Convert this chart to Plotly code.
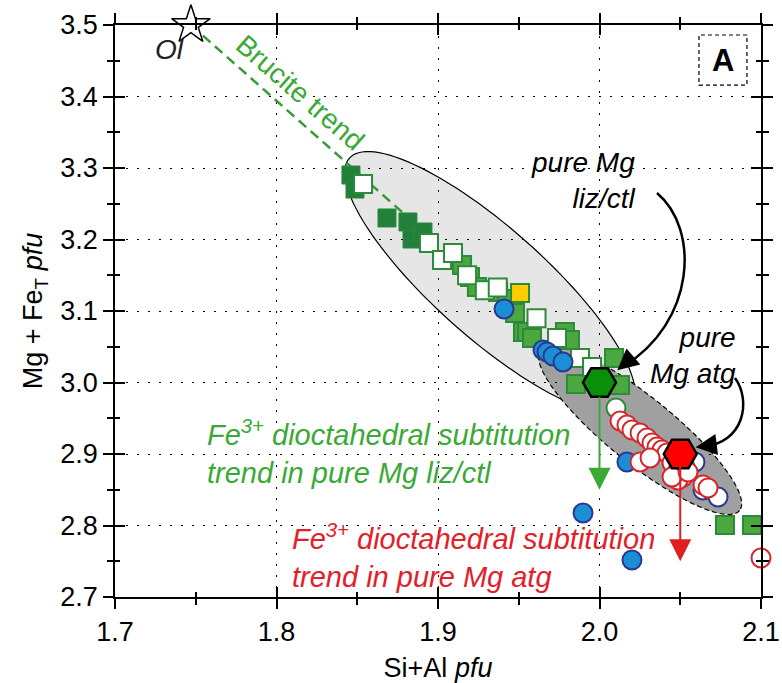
import numpy as np
import plotly.graph_objects as go

# ---------------- data ----------------
dkgreen_x = [1.8461, 1.8486, 1.8684, 1.8814, 1.8839, 1.8907]
dkgreen_y = [3.2902, 3.2706, 3.2301, 3.2245, 3.2007, 3.2105]

green_x = [1.9149, 1.9198, 1.9241, 1.9372, 1.9427, 1.9477, 1.9526, 1.9551, 1.9582,
           1.9786, 1.9817, 1.9854, 2.0090, 2.0127, 2.0777, 2.0944]
green_y = [3.1643, 3.1476, 3.1336, 3.1266, 3.1168, 3.0972, 3.0706, 3.0706, 3.0622,
           3.0706, 3.0594, 2.9979, 3.0343, 2.9965, 2.8007, 2.8007]

white_sq_x = [1.8536, 1.8944, 1.9025, 1.9093, 1.9180, 1.9290, 1.9370, 1.9610, 1.9737, 1.9879, 1.9954]
white_sq_y = [3.2776, 3.1951, 3.1713, 3.1811, 3.1500, 3.1290, 3.1330, 3.0900, 3.0622, 3.0343, 3.0217]

yellow_x = [1.9508]
yellow_y = [3.1252]

blue_x = [1.9409, 1.9650, 1.9675, 1.9712, 1.9774, 2.0170, 1.9898, 2.0201]
blue_y = [3.1028, 3.0455, 3.0427, 3.0371, 3.0287, 2.8888, 2.8175, 2.7517]

blue_open_x = [2.0641, 2.0734, 2.0591]
blue_open_y = [2.8497, 2.8399, 2.8888]

green_open_x = [2.0102, 2.0529]
green_open_y = [2.9643, 2.8818]

red_open_x = [2.0127, 2.0170, 2.0201, 2.0251, 2.0294, 2.0325, 2.0356, 2.0387, 2.0418, 2.0251,
              2.0313, 2.0449, 2.0480, 2.0517, 2.0486, 2.0449, 2.0548, 2.0641, 2.0672, 2.1000]
red_open_y = [2.9462, 2.9406, 2.9336, 2.9294, 2.9224, 2.9154, 2.9098, 2.9056, 2.9014, 2.8888,
              2.8944, 2.8874, 2.8748, 2.8678, 2.8636, 2.8678, 2.8748, 2.8566, 2.8524, 2.7545]

ol_x, ol_y = [1.747], [3.5]
brucite_x = [1.747, 1.88]
brucite_y = [3.5, 3.234]

lizctl_x, lizctl_y = [2.0], [3.0]
atg_x, atg_y = [2.05], [2.9]

x_ticks = [1.7, 1.8, 1.9, 2.0, 2.1]
y_ticks = [2.7, 2.8, 2.9, 3.0, 3.1, 3.2, 3.3, 3.4, 3.5]
X_RANGE = [1.7, 2.1]
Y_RANGE = [2.7, 3.5]

# ellipses: centre (data), semi-axes (px), angle (deg, clockwise on screen)
ell_light = dict(cx=1.9322, cy=3.1392, a=188, b=55, ang=41.6)
ell_dark = dict(cx=2.0251, cy=2.9336, a=128, b=33, ang=39.0)

W, H = 782, 683
ML, MR, MT, MB = 115, 21, 25, 86
PX_X = (W - ML - MR) / (X_RANGE[1] - X_RANGE[0])
PX_Y = (H - MT - MB) / (Y_RANGE[1] - Y_RANGE[0])


def ellipse_path(e, n=120):
    t = np.linspace(0, 2 * np.pi, n)
    th = np.radians(e["ang"])
    dx = e["a"] * np.cos(t) * np.cos(th) - e["b"] * np.sin(t) * np.sin(th)
    dy = e["a"] * np.cos(t) * np.sin(th) + e["b"] * np.sin(t) * np.cos(th)
    xs = e["cx"] + dx / PX_X
    ys = e["cy"] - dy / PX_Y
    p = "M " + " L ".join(f"{x:.5f},{y:.5f}" for x, y in zip(xs, ys)) + " Z"
    return p


GREEN_TXT = "#3aa935"
RED_TXT = "#e3202a"
FONT = "Liberation Sans, Arial, Helvetica, sans-serif"

fig = go.Figure()

fig.add_trace(go.Scatter(x=brucite_x, y=brucite_y, mode="lines",
                         line=dict(color="#3a9b35", width=2.5, dash="10px,6px"),
                         hoverinfo="skip"))


def sq(x, y, fill, border, size=18, symbol="square", width=2):
    fig.add_trace(go.Scatter(x=x, y=y, mode="markers", cliponaxis=False,
                             marker=dict(symbol=symbol, size=size, color=fill,
                                         line=dict(color=border, width=width))))


sq(dkgreen_x, dkgreen_y, "#22803a", "#2a8a3e", width=1)
sq(green_x, green_y, "#4aa83e", "#2c8a3a")
sq(white_sq_x, white_sq_y, "white", "#2c8a3a")
sq(yellow_x, yellow_y, "#ffcc00", "#2c8a3a")
sq(blue_x, blue_y, "#1a8fd6", "#2b3990", symbol="circle", size=19)
sq(blue_open_x, blue_open_y, "white", "#2b3990", symbol="circle", size=19)
sq(green_open_x, green_open_y, "white", "#2c8a3a", symbol="circle", size=19)
sq(red_open_x, red_open_y, "white", "#d7262b", symbol="circle", size=19)
sq(ol_x, ol_y, "white", "black", symbol="star", size=29, width=1.5)
sq(lizctl_x, lizctl_y, "#0a8f0a", "black", symbol="hexagon2", size=33, width=2.5)
sq(atg_x, atg_y, "#ff0000", "black", symbol="hexagon2", size=33, width=2.5)

# dummy trace for overlaid tick axes
fig.add_trace(go.Scatter(x=[None], y=[None], xaxis="x2", yaxis="y2", showlegend=False))

shapes = [
    dict(type="path", path=ellipse_path(ell_light), xref="x", yref="y", layer="below",
         fillcolor="#e6e6e6", line=dict(color="black", width=1.2)),
    dict(type="path", path=ellipse_path(ell_dark), xref="x", yref="y", layer="below",
         fillcolor="#a0a0a0", line=dict(color="black", width=1.2, dash="5px,3px")),
    # curved arrow to liz/ctl
    dict(type="path", xref="x", yref="y", layer="above",
         path="M 2.0356,3.265 C 2.062,3.215 2.060,3.085 2.0145,3.022",
         line=dict(color="black", width=2.5)),
    # curved arrow to atg
    dict(type="path", xref="x", yref="y", layer="above",
         path="M 2.0839,3.0063 C 2.094,2.975 2.090,2.915 2.0635,2.910",
         line=dict(color="black", width=2.5)),
    # dashed box around A
    dict(type="rect", xref="x", yref="y", x0=2.0616, x1=2.0913, y0=3.416, y1=3.486,
         line=dict(color="black", width=1.2, dash="4px,3px"), layer="above"),
]

ann = [
    dict(x=1.734, y=3.466, text="<i>Ol</i>", showarrow=False,
         font=dict(size=28, color="#222")),
    dict(x=1.8146, y=3.406, text="Brucite trend", showarrow=False, textangle=41,
         font=dict(size=28, color=GREEN_TXT)),
    dict(x=2.0235, y=3.283, text="<i>pure Mg<br>liz/ctl</i>", showarrow=False,
         xanchor="right", align="right", font=dict(size=28, color="black")),
    dict(x=2.086, y=3.038, text="<i>pure<br>Mg atg</i>", showarrow=False,
         xanchor="right", align="right", font=dict(size=28, color="black")),
    dict(x=1.7557, y=2.903, xanchor="left", align="left", showarrow=False,
         text="<i>Fe<sup>3+</sup> dioctahedral subtitution<br>trend in pure Mg liz/ctl</i>",
         font=dict(size=29, color=GREEN_TXT)),
    dict(x=1.8084, y=2.757, xanchor="left", align="left", showarrow=False,
         text="<i>Fe<sup>3+</sup> dioctahedral subtitution<br>trend in pure Mg atg</i>",
         font=dict(size=29, color=RED_TXT)),
    dict(x=2.0765, y=3.451, text="<b>A</b>", showarrow=False,
         font=dict(size=31, color="black")),
    # straight trend arrows
    dict(x=2.0, y=2.85, ax=2.0, ay=2.982, axref="x", ayref="y", xref="x", yref="y",
         text="", showarrow=True, arrowhead=2, arrowsize=2.2, arrowwidth=2,
         arrowcolor="#3aa935"),
    dict(x=2.05, y=2.75, ax=2.05, ay=2.885, axref="x", ayref="y", xref="x", yref="y",
         text="", showarrow=True, arrowhead=2, arrowsize=2.2, arrowwidth=2,
         arrowcolor="#e02020"),
    # heads of curved arrows
    dict(x=2.011, y=3.017, ax=14, ay=-12, text="", showarrow=True, arrowhead=2,
         arrowsize=1.7, arrowwidth=2.5, arrowcolor="black"),
    dict(x=2.0595, y=2.9095, ax=16, ay=-2, text="", showarrow=True, arrowhead=2,
         arrowsize=1.7, arrowwidth=2.5, arrowcolor="black"),
]

axis_common = dict(showline=True, linecolor="black", linewidth=1.5, mirror="allticks",
                   ticks="outside", ticklen=10, tickwidth=1.5, tickcolor="black",
                   tickfont=dict(size=27, color="black", family=FONT),
                   tickformat=".1f", zeroline=False, automargin=False,
                   showgrid=True, gridcolor="black", gridwidth=1.4, griddash="2px,9px",
                   minor=dict(dtick=0.05, ticks="outside", ticklen=6, tickwidth=1.5,
                              tickcolor="black", showgrid=False))

overlay_common = dict(showline=False, mirror="allticks", ticks="inside", ticklen=10,
                      tickwidth=1.5, tickcolor="black", showticklabels=False,
                      showgrid=False, zeroline=False, automargin=False,
                      minor=dict(dtick=0.05, ticks="inside", ticklen=5, tickwidth=1.5,
                                 tickcolor="black", showgrid=False))

fig.update_layout(
    width=W, height=H, margin=dict(l=ML, r=MR, t=MT, b=MB, autoexpand=False),
    paper_bgcolor="white", plot_bgcolor="white", showlegend=False,
    font=dict(family=FONT, color="black"),
    xaxis=dict(range=X_RANGE, tickvals=x_ticks, dtick=0.1, ticklabeloverflow="allow",
               title=dict(text="Si+Al <i>pfu</i>", font=dict(size=27), standoff=13),
               **axis_common),
    yaxis=dict(range=Y_RANGE, tickvals=y_ticks, dtick=0.1,
               title=dict(text="Mg + Fe<sub>T</sub> <i>pfu</i>", font=dict(size=27), standoff=10),
               **axis_common),
    xaxis2=dict(range=X_RANGE, overlaying="x", dtick=0.1, tick0=1.7, **overlay_common),
    yaxis2=dict(range=Y_RANGE, overlaying="y", dtick=0.1, tick0=2.7, **overlay_common),
    shapes=shapes, annotations=ann,
)

# remove the default 8px page margin so the figure fills the window exactly
fig.write_html("out.html", config={"displayModeBar": False},
               post_script="document.body.style.margin='0px';document.body.style.overflow='hidden';")
